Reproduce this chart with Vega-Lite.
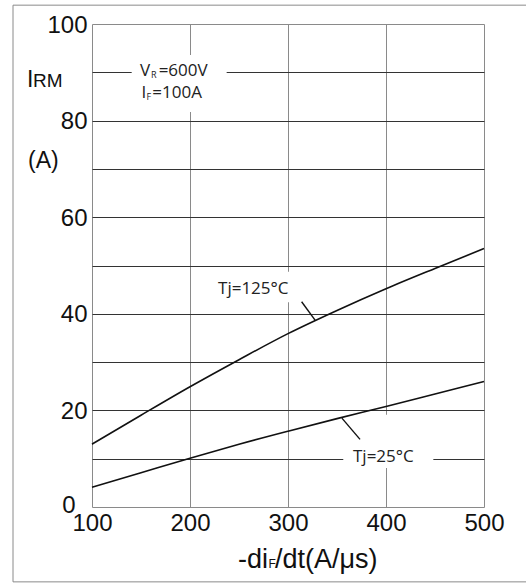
{
  "$schema": "https://vega.github.io/schema/vega-lite/v6.json",
  "autosize": {"type": "none"},
  "padding": {"left": 92, "top": 24, "right": 42, "bottom": 76},
  "width": 392,
  "height": 483,
  "background": "white",
  "config": {"view": {"stroke": "#8a8a8a", "strokeWidth": 1}},
  "datasets": {
    "curves": [
      {"x": 100, "y": 13.0, "tj": "125"}, {"x": 150, "y": 19.0, "tj": "125"}, {"x": 200, "y": 24.9, "tj": "125"},
      {"x": 250, "y": 30.5, "tj": "125"}, {"x": 300, "y": 35.9, "tj": "125"}, {"x": 350, "y": 40.7, "tj": "125"},
      {"x": 400, "y": 45.2, "tj": "125"}, {"x": 450, "y": 49.4, "tj": "125"}, {"x": 500, "y": 53.5, "tj": "125"},
      {"x": 100, "y": 4.1, "tj": "25"}, {"x": 150, "y": 7.1, "tj": "25"}, {"x": 200, "y": 10.1, "tj": "25"},
      {"x": 250, "y": 13.0, "tj": "25"}, {"x": 300, "y": 15.7, "tj": "25"}, {"x": 350, "y": 18.3, "tj": "25"},
      {"x": 400, "y": 20.8, "tj": "25"}, {"x": 450, "y": 23.4, "tj": "25"}, {"x": 500, "y": 26.0, "tj": "25"}
    ],
    "frame": [{"x": 19.4, "x2": 560.0, "y": 103.9, "y2": -15.5}],
    "boxes": [
      {"x": 140.5, "x2": 237.4, "y": 93.6, "y2": 81.8},
      {"x": 224.5, "x2": 309.2, "y": 48.7, "y2": 42.4},
      {"x": 356.4, "x2": 448.3, "y": 19.1, "y2": 8.1}
    ],
    "leaders": [
      {"x": 313.9, "y": 42.5, "x2": 328.0, "y2": 38.6},
      {"x": 355.0, "y": 18.4, "x2": 373.5, "y2": 14.0}
    ],
    "notes": [
      {"x": 149.0, "y": 89.3, "text": "V"},
      {"x": 168.0, "y": 89.3, "text": "=600V"},
      {"x": 150.5, "y": 84.6, "text": "I"},
      {"x": 161.5, "y": 84.6, "text": "=100A"},
      {"x": 228.6, "y": 44.1, "text": "Tj=125°C"},
      {"x": 366.3, "y": 9.4, "text": "Tj=25°C"}
    ],
    "subs": [
      {"x": 160.3, "y": 88.8, "text": "R"},
      {"x": 155.6, "y": 84.2, "text": "F"}
    ],
    "titleLeft": [{"x": 279.6, "y": -12.6, "text": "-di"}],
    "titleSub": [{"x": 280.1, "y": -12.6, "text": "F"}],
    "titleRight": [{"x": 286.7, "y": -12.6, "text": "/dt(A/μs)"}],
    "yTitleBig": [{"x": 33.7, "y": 86.9, "text": "I"}, {"x": 34.7, "y": 70.1, "text": "(A)"}],
    "yTitleSmall": [{"x": 39.8, "y": 86.9, "text": "RM"}]
  },
  "encoding": {
    "x": {
      "field": "x", "type": "quantitative", "title": null,
      "scale": {"domain": [100, 500], "nice": false, "zero": false},
      "axis": {
        "values": [100, 200, 300, 400, 500],
        "grid": true, "gridColor": "#8a8a8a", "gridWidth": 1,
        "gridOpacity": {"condition": {"test": "datum.value === 100 || datum.value === 500", "value": 0}, "value": 1},
        "domain": false, "ticks": false, "labelFlush": false,
        "labelFont": "Liberation Sans", "labelFontSize": 24, "labelColor": "#111", "labelPadding": 4
      }
    },
    "y": {
      "field": "y", "type": "quantitative", "title": null,
      "scale": {"domain": [0, 100], "nice": false},
      "axis": {
        "values": [0, 10, 20, 30, 40, 50, 60, 70, 80, 90, 100],
        "labelExpr": "datum.value % 20 === 0 ? datum.label : ''",
        "grid": true, "gridColor": "#333333", "gridWidth": 1,
        "gridOpacity": {"condition": {"test": "datum.value === 0 || datum.value === 100", "value": 0}, "value": 1},
        "domain": false, "ticks": false, "labelFlush": false,
        "labelFont": "Liberation Sans", "labelFontSize": 24, "labelColor": "#111",
        "labelPadding": {"condition": {"test": "datum.value === 0", "value": 17}, "value": 5},
        "labelOffset": {"condition": {"test": "datum.value === 0", "value": -2}, "value": 1}
      }
    }
  },
  "layer": [
    {"data": {"name": "frame"}, "mark": {"type": "rect", "fillOpacity": 0, "stroke": "#8a8a8a", "strokeWidth": 1}, "encoding": {"x2": {"field": "x2"}, "y2": {"field": "y2"}}},
    {"data": {"name": "boxes"}, "mark": {"type": "rect", "fill": "white", "strokeWidth": 0}, "encoding": {"x2": {"field": "x2"}, "y2": {"field": "y2"}}},
    {"data": {"name": "curves"}, "mark": {"type": "line", "color": "#111", "strokeWidth": 1.6, "interpolate": "monotone"}, "encoding": {"detail": {"field": "tj"}}},
    {"data": {"name": "leaders"}, "mark": {"type": "rule", "color": "#111", "strokeWidth": 1.4}, "encoding": {"x2": {"field": "x2"}, "y2": {"field": "y2"}}},
    {"data": {"name": "notes"}, "mark": {"type": "text", "align": "left", "baseline": "alphabetic", "font": "Open Sans", "fontSize": 17, "color": "#222"}, "encoding": {"text": {"field": "text"}}},
    {"data": {"name": "subs"}, "mark": {"type": "text", "align": "left", "baseline": "alphabetic", "font": "Open Sans", "fontSize": 9, "color": "#222"}, "encoding": {"text": {"field": "text"}}},
    {"data": {"name": "titleLeft"}, "mark": {"type": "text", "align": "right", "baseline": "alphabetic", "font": "Liberation Sans", "fontSize": 27, "color": "#111"}, "encoding": {"text": {"field": "text"}}},
    {"data": {"name": "titleSub"}, "mark": {"type": "text", "align": "left", "baseline": "alphabetic", "font": "Liberation Sans", "fontSize": 12, "color": "#111"}, "encoding": {"text": {"field": "text"}}},
    {"data": {"name": "titleRight"}, "mark": {"type": "text", "align": "left", "baseline": "alphabetic", "font": "Liberation Sans", "fontSize": 27, "color": "#111"}, "encoding": {"text": {"field": "text"}}},
    {"data": {"name": "yTitleBig"}, "mark": {"type": "text", "align": "left", "baseline": "alphabetic", "font": "Liberation Sans", "fontSize": 23, "color": "#111"}, "encoding": {"text": {"field": "text"}}},
    {"data": {"name": "yTitleSmall"}, "mark": {"type": "text", "align": "left", "baseline": "alphabetic", "font": "Liberation Sans", "fontSize": 19, "color": "#111"}, "encoding": {"text": {"field": "text"}}}
  ]
}
